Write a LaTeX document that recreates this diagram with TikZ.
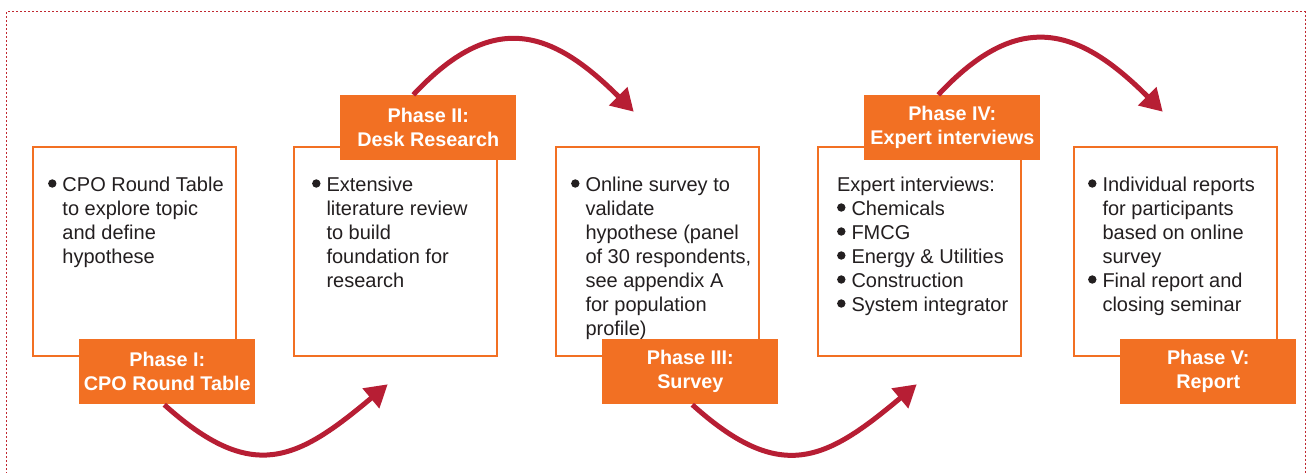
\documentclass[tikz,border=0pt]{standalone}
\usepackage{fontspec}
\setmainfont{Liberation Sans}
\usepackage{xcolor}
\usetikzlibrary{positioning, calc}
\usetikzlibrary{arrows.meta}

\definecolor{phaseorange}{RGB}{242,112,35}
\definecolor{arrowred}{RGB}{183,30,52}
\definecolor{textgray}{RGB}{35,31,32}
\definecolor{framered}{RGB}{192,40,48}

\newcommand{\blt}{\tikz[baseline=-3.8pt]\fill[textgray] (2.1pt,0) circle (2.1pt);}

\begin{document}
\begin{tikzpicture}[
  node distance=27.2pt,
  every node/.style={font=\fontsize{10}{12}\selectfont},
  phasebox/.style={rectangle, draw=phaseorange, line width=1.3pt, fill=white, minimum width=101.5pt, minimum height=104.5pt, inner sep=0pt},
  phaselabel/.style={rectangle, fill=phaseorange, text=white, font=\fontsize{9.9}{12}\selectfont\bfseries, align=center, minimum width=88pt, minimum height=32.5pt, inner sep=0pt},
  boxtext/.style={anchor=north west, inner sep=0pt, text=textgray, align=left},
  flow/.style={draw=arrowred, line width=2.5pt, -{Triangle[length=11pt, width=12.5pt]}, looseness=1.35}
]

\useasboundingbox (0,0) rectangle (653pt,236pt);
\draw[framered, line width=0.5pt, dash pattern=on 1pt off 1pt] (3.2pt,-5pt) rectangle (652.5pt,230.2pt);

\node[phasebox] (b1) at (67.25pt,110.25pt) {};
\node[phasebox, right=27.7pt of b1] (b2) {};
\node[phasebox, right=28.2pt of b2] (b3) {};
\node[phasebox, right=28.2pt of b3] (b4) {};
\node[phasebox, right=25.2pt of b4] (b5) {};

\node[boxtext] (x1) at ([shift={(8pt,-14.1pt)}]b1.north west) {\begin{tabular}{@{}l@{\hspace{3pt}}l@{}}
  \blt & CPO Round Table\\ & to explore topic\\ & and define\\ & hypothese
\end{tabular}};
\node[boxtext] (x2) at ([shift={(9.5pt,-14.1pt)}]b2.north west) {\begin{tabular}{@{}l@{\hspace{3pt}}l@{}}
  \blt & Extensive\\ & literature review\\ & to build\\ & foundation for\\ & research
\end{tabular}};
\node[boxtext] (x3) at ([shift={(8pt,-14.1pt)}]b3.north west) {\begin{tabular}{@{}l@{\hspace{3pt}}l@{}}
  \blt & Online survey to\\ & validate\\ & hypothese (panel\\ & of 30 respondents,\\ & see appendix A\\ & for population\\ & profile)
\end{tabular}};
\node[boxtext] (x4) at ([shift={(10pt,-14.1pt)}]b4.north west) {\begin{tabular}{@{}l@{\hspace{3pt}}l@{}}
  \multicolumn{2}{@{}l@{}}{Expert interviews:}\\
  \blt & Chemicals\\ \blt & FMCG\\ \blt & Energy \& Utilities\\
  \blt & Construction\\ \blt & System integrator
\end{tabular}};
\node[boxtext] (x5) at ([shift={(7.5pt,-14.1pt)}]b5.north west) {\begin{tabular}{@{}l@{\hspace{3pt}}l@{}}
  \blt & Individual reports\\ & for participants\\ & based on online\\ & survey\\
  \blt & Final report and\\ & closing seminar
\end{tabular}};

\node[phaselabel] (p1) at ([shift={(-35pt,-7.25pt)}]b1.south east) {Phase I:\\CPO Round Table};
\node[phaselabel] (p2) at ([shift={(-35pt,9pt)}]b2.north east) {Phase II:\\Desk Research};
\node[phaselabel] (p3) at ([shift={(-35pt,-7.25pt)}]b3.south east) {Phase III:\\Survey};
\node[phaselabel] (p4) at ([shift={(-35pt,9pt)}]b4.north east) {Phase IV:\\Expert interviews};
\node[phaselabel] (p5) at ([shift={(-35pt,-7.25pt)}]b5.south east) {Phase V:\\Report};

\coordinate (t1) at ([shift={(47.5pt,-13.5pt)}]b2.south west);
\coordinate (t2) at ([shift={(39.5pt,17pt)}]b3.north west);
\coordinate (t3) at ([shift={(50pt,-13.5pt)}]b4.south west);
\coordinate (t4) at ([shift={(45pt,17pt)}]b5.north west);

\draw[flow] ([xshift=-1.5pt]p1.south) to[out=-42, in=-140] (t1);
\draw[flow] ([xshift=-7.5pt]p2.north) to[out=47, in=135] (t2);
\draw[flow] ([xshift=1pt]p3.south) to[out=-42, in=-140] (t3);
\draw[flow] ([xshift=-7pt]p4.north) to[out=47, in=135] (t4);

\end{tikzpicture}
\end{document}
